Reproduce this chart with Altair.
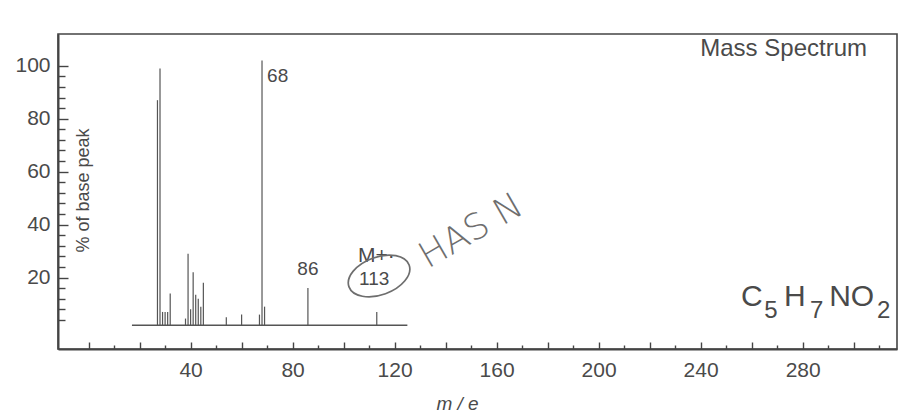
import altair as alt
import pandas as pd

# Peak list of C5H7NO2: m/e and relative abundance (% of base peak)
mz = [27, 28, 29, 30, 31, 32, 38, 39, 40, 41, 42, 43, 44, 45, 54, 60, 67, 68, 69, 86, 113]
abundance = [85, 97, 5, 5, 5, 12, 2.5, 27, 6, 20, 11.5, 10, 7, 16, 3, 4, 4, 100, 7, 14, 5]

# Axis tick values and labels
x_ticks = list(range(0, 320, 10))
x_labels = [40, 80, 120, 160, 200, 240, 280]
y_ticks = list(range(4, 104, 4))
y_labels = [20, 40, 60, 80, 100]

# The spectrum sits on its own baseline, a little above zero
base_level = 2
baseline_span = [17, 125]

# Peak annotations (text, m/e, level, font size)
left_labels = ["68", "M+·", "C", "5", "H", "7", "NO", "2"]
left_x = [70, 105.6, 255.8, 264.9, 272.7, 282.9, 290.4, 309.2]
left_y = [93.9, 25.9, 9.3, 4.8, 9.3, 4.8, 9.3, 4.8]
left_size = [19, 21, 30, 24, 30, 24, 30, 24]

center_labels = ["86", "113"]
center_x = [86, 112]
center_y = [21, 17.2]

note_text = ["HAS N"]
note_x = [150]
note_y = [37.5]
ring_x = [113.9]
ring_y = [20.6]

X_DOMAIN = [-12, 317]
Y_DOMAIN = [-7, 112]
W, H = 839, 315
INK = "#444444"
TEXT = "#4a4a4a"
PENCIL = "#6e6e6e"
FONT = "Liberation Sans"

xs = alt.Scale(domain=X_DOMAIN, nice=False, zero=False)
ys = alt.Scale(domain=Y_DOMAIN, nice=False, zero=False)

peaks = pd.DataFrame({"mz": mz, "ab": abundance})
peaks["base"] = base_level
peaks["top"] = peaks["ab"] + base_level

axis_bottom = alt.Axis(
    orient="bottom", values=x_labels, ticks=False, grid=False,
    domain=True, domainColor=INK, domainWidth=2,
    labelFont=FONT, labelFontSize=21, labelColor=TEXT, labelPadding=10,
    title="m / e", titleFont=FONT, titleFontSize=19, titleFontStyle="italic",
    titleFontWeight="normal", titleColor=TEXT, titleX=399, titleY=60,
    titleBaseline="alphabetic", titleAlign="center",
)
axis_left = alt.Axis(
    orient="left", values=y_labels, ticks=False, grid=False,
    domain=True, domainColor=INK, domainWidth=2,
    labelFont=FONT, labelFontSize=21, labelColor=TEXT, labelPadding=8,
    title="% of base peak", titleFont=FONT, titleFontSize=18,
    titleFontWeight="normal", titleColor=TEXT, titleAngle=270,
    titleX=25, titleY=156, titleAlign="center", titleBaseline="middle",
)
# inward tick marks along the bottom and left edges
axis_ticks_x = alt.Axis(
    orient="top", offset=-H, values=x_ticks, labels=False, domain=False, grid=False,
    tickColor=INK, tickWidth=1.4,
    tickSize={"condition": {"test": "datum.value % 20 === 0", "value": 7}, "value": 4},
    title=None,
)
axis_ticks_y = alt.Axis(
    orient="right", offset=-W, values=y_ticks, labels=False, domain=False, grid=False,
    tickColor=INK, tickWidth=1.4,
    tickSize={"condition": {"test": "datum.value % 20 === 0", "value": 10}, "value": 7},
    title=None,
)

spectrum = alt.Chart(peaks).mark_rule(color="#555555", strokeWidth=1.2).encode(
    x=alt.X("mz:Q", scale=xs, axis=axis_bottom),
    y=alt.Y("top:Q", scale=ys, axis=axis_left),
    y2="base:Q",
)

baseline = alt.Chart(pd.DataFrame({
    "x0": [baseline_span[0]], "x1": [baseline_span[1]], "b": [base_level]
})).mark_rule(color="#555555", strokeWidth=1.5).encode(
    x=alt.X("x0:Q", scale=xs, axis=axis_ticks_x),
    x2="x1:Q",
    y=alt.Y("b:Q", scale=ys, axis=axis_ticks_y),
)

left_df = pd.DataFrame({"t": left_labels, "x": left_x, "y": left_y, "s": left_size})
left_text = alt.Chart(left_df).mark_text(
    align="left", baseline="alphabetic", font=FONT, color=TEXT
).encode(
    x=alt.X("x:Q", scale=xs, axis=None),
    y=alt.Y("y:Q", scale=ys, axis=None),
    text="t:N",
    size=alt.Size("s:Q", scale=None, legend=None),
)

center_df = pd.DataFrame({"t": center_labels, "x": center_x, "y": center_y})
center_text = alt.Chart(center_df).mark_text(
    align="center", baseline="alphabetic", font=FONT, fontSize=19, color=TEXT
).encode(
    x=alt.X("x:Q", scale=xs, axis=None),
    y=alt.Y("y:Q", scale=ys, axis=None),
    text="t:N",
)

# pencil notes: ring around the molecular ion and a hand-written remark
k = 0.59
c = 0.5523
ellipse = (
    f"M -1 0 C -1 {-c*k:.3f} {-c:.3f} {-k} 0 {-k} "
    f"C {c:.3f} {-k} 1 {-c*k:.3f} 1 0 "
    f"C 1 {c*k:.3f} {c:.3f} {k} 0 {k} "
    f"C {-c:.3f} {k} -1 {c*k:.3f} -1 0 Z"
)
ring = alt.Chart(pd.DataFrame({"x": ring_x, "y": ring_y})).mark_point(
    shape=ellipse, size=4096, angle=340, filled=False,
    stroke=PENCIL, strokeWidth=1.7, opacity=1,
).encode(
    x=alt.X("x:Q", scale=xs, axis=None),
    y=alt.Y("y:Q", scale=ys, axis=None),
)

note = alt.Chart(pd.DataFrame({"t": note_text, "x": note_x, "y": note_y})).mark_text(
    align="center", baseline="middle", font="DejaVu Sans", fontSize=36,
    fontWeight=200, angle=330, color=PENCIL,
).encode(
    x=alt.X("x:Q", scale=xs, axis=None),
    y=alt.Y("y:Q", scale=ys, axis=None),
    text="t:N",
)

chart = alt.layer(
    spectrum, baseline, left_text, center_text, ring, note
).resolve_axis(
    x="independent", y="independent"
).properties(
    width=W, height=H,
    title=alt.TitleParams(
        "Mass Spectrum", anchor="end", align="right", orient="top",
        font=FONT, fontSize=24, fontWeight="normal", color=TEXT,
        baseline="alphabetic", offset=0, dx=-30, dy=46,
    ),
    autosize=alt.AutoSizeParams(type="none"),
    padding={"left": 58, "top": 34, "right": 905 - 58 - W, "bottom": 414 - 34 - H},
).configure(
    background="white"
).configure_view(
    stroke=INK, strokeWidth=1.6
)

chart.save("out.html", embed_options={"renderer": "svg", "actions": False})
